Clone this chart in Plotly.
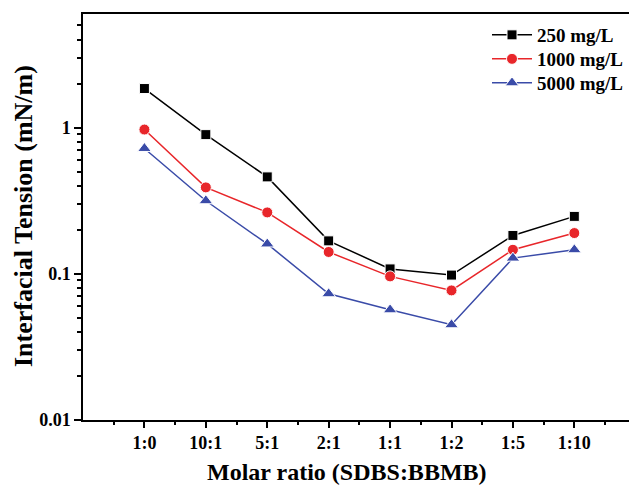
import plotly.graph_objects as go

categories = ["1:0", "10:1", "5:1", "2:1", "1:1", "1:2", "1:5", "1:10"]
ift_250 = [1.85, 0.895, 0.46, 0.168, 0.108, 0.098, 0.183, 0.247]
ift_1000 = [0.97, 0.39, 0.263, 0.141, 0.096, 0.077, 0.146, 0.19]
ift_5000 = [0.72, 0.316, 0.16, 0.073, 0.0567, 0.0448, 0.128, 0.146]

series = [
    ("250 mg/L", ift_250, "#000000", "square", 10, "legend"),
    ("1000 mg/L", ift_1000, "#E8262A", "circle", 11, "legend2"),
    ("5000 mg/L", ift_5000, "#3A4BA8", "triangle-up", 12, "legend3"),
]

xpos = list(range(len(categories)))
FONT = "Liberation Serif"
W, H = 629, 486
L, R, T, B = 83, 0, 14, 66

fig = go.Figure()
for name, vals, color, sym, sz, lg in series:
    fig.add_trace(go.Scatter(
        x=xpos, y=vals, name=name, mode="lines+markers", legend=lg,
        line=dict(color=color, width=1.5),
        marker=dict(symbol=sym, size=sz, color=color, line=dict(color="white", width=1)),
    ))

minor_y = [m * 10 ** e for e in (-2, -1) for m in range(2, 10)] + [2, 3, 4, 5, 6]

def px_x(p):
    return (p - L) / (W - L - R)

def px_y(p):
    return 1 - (p - T) / (H - T - B)

def leg(ycenter):
    return dict(
        x=px_x(487), y=px_y(ycenter), xanchor="left", yanchor="middle",
        bgcolor="rgba(0,0,0,0)", borderwidth=0,
        font=dict(family=FONT, size=19, color="black", weight="bold"),
        itemwidth=40,
    )

fig.update_layout(
    width=W, height=H,
    margin=dict(l=L, r=R, t=T, b=B),
    plot_bgcolor="white", paper_bgcolor="white",
    font=dict(family=FONT, size=18, color="black"),
    showlegend=True,
    legend=leg(35), legend2=leg(59), legend3=leg(83),
    xaxis=dict(
        range=[-1, 7.89],
        tickmode="array", tickvals=xpos, ticktext=categories,
        tickfont=dict(family=FONT, size=18, weight="bold"),
        showline=True, linecolor="black", linewidth=1.5, mirror=True,
        ticks="outside", ticklen=6, tickwidth=1.5, tickcolor="black",
        minor=dict(tickmode="array", tickvals=[i - 0.5 for i in range(9)],
                   ticks="outside", ticklen=3, tickwidth=1.5, tickcolor="black"),
        showgrid=False, zeroline=False,
    ),
    yaxis=dict(
        type="log", range=[-2, 0.777],
        tickmode="array", tickvals=[0.01, 0.1, 1], ticktext=["0.01", "0.1", "1"],
        tickfont=dict(family=FONT, size=18, weight="bold"),
        showline=True, linecolor="black", linewidth=1.5, mirror=False,
        ticks="outside", ticklen=7, tickwidth=1.5, tickcolor="black",
        minor=dict(tickmode="array", tickvals=minor_y,
                   ticks="outside", ticklen=4, tickwidth=1.5, tickcolor="black"),
        showgrid=False, zeroline=False,
    ),
    annotations=[
        dict(text="<b>Molar ratio (SDBS:BBMB)</b>", xref="paper", yref="paper",
             x=px_x(347), y=px_y(472), xanchor="center", yanchor="middle",
             showarrow=False, font=dict(family=FONT, size=24, color="black")),
        dict(text="<b>Interfacial Tension (mN/m)</b>", xref="paper", yref="paper",
             x=px_x(24), y=px_y(216), xanchor="center", yanchor="middle", textangle=-90,
             showarrow=False, font=dict(family=FONT, size=26, color="black")),
    ],
)

fig.write_html("out.html")
